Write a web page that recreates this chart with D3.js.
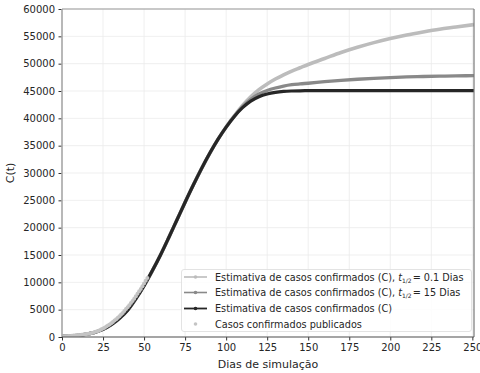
<!DOCTYPE html>
<html><head><meta charset="utf-8">
<script src="https://cdn.jsdelivr.net/npm/d3@7"></script>
<style>body{margin:0;background:#fff}svg{display:block;font-family:"DejaVu Sans",sans-serif}</style>
</head><body>
<svg id="chart" width="480" height="373"></svg>
<script>
// Days (x) for the model curves
const days = [0,5,10,15,20,25,30,35,40,45,50,55,60,65,70,75,80,85,90,95,100,105,110,115,120,125,130,135,140,145,150,160,170,180,190,200,210,220,230,240,251];
// Estimativa (C) - black
const estC = [100,180,320,520,850,1400,2250,3400,4900,7000,9400,12100,15000,18150,21400,24650,27800,30800,33600,36150,38400,40350,41950,43150,43950,44450,44750,44920,45000,45040,45060,45070,45080,45080,45080,45080,45080,45080,45080,45080,45080];
// Estimativa (C), t1/2 = 15 Dias - mid gray
const estC15 = [100,180,320,520,850,1400,2250,3400,4900,7000,9400,12100,15000,18150,21400,24650,27800,30800,33600,36150,38400,40400,42150,43500,44450,45100,45550,45900,46150,46300,46420,46700,46950,47150,47320,47460,47570,47650,47720,47770,47810];
// Estimativa (C), t1/2 = 0.1 Dias - light gray
const estC01 = [100,180,320,520,850,1400,2250,3400,4900,7000,9400,12100,15000,18150,21400,24650,27800,30800,33600,36150,38420,40450,42350,43950,45250,46300,47200,47950,48650,49250,49850,50950,52050,53000,53850,54600,55250,55800,56300,56700,57150];
// Casos confirmados publicados
const pubDays = d3.range(0,53);
const pubCases = [100,110,130,150,170,200,230,260,290,320,350,380,420,460,500,550,600,660,720,800,900,1000,1100,1250,1400,1550,1700,1900,2100,2300,2500,2750,3000,3250,3500,3800,4100,4400,4750,5100,5450,5800,6200,6600,7000,7450,7900,8350,8800,9300,9800,10300,10800];
const xTicks = [0,25,50,75,100,125,150,175,200,225,250];
const yTicks = [0,5000,10000,15000,20000,25000,30000,35000,40000,45000,50000,55000,60000];

const svg = d3.select("#chart");
const L=62, R=474, T=9, B=337;
const x = d3.scaleLinear().domain([0,251]).range([L,R]);
const y = d3.scaleLinear().domain([0,60000]).range([B,T]);

// grid
const g = svg.append("g");
g.selectAll(".gx").data(xTicks).join("line").attr("x1",d=>x(d)).attr("x2",d=>x(d)).attr("y1",T).attr("y2",B).attr("stroke","#ebebeb").attr("stroke-width",0.8);
g.selectAll(".gy").data(yTicks).join("line").attr("y1",d=>y(d)).attr("y2",d=>y(d)).attr("x1",L).attr("x2",R).attr("stroke","#ebebeb").attr("stroke-width",0.8);

const line = (arr)=>d3.line().x((d,i)=>x(days[i])).y(d=>y(d)).curve(d3.curveMonotoneX)(arr);
svg.append("clipPath").attr("id","c").append("rect").attr("x",L).attr("y",T).attr("width",R-L).attr("height",B-T);
const pg = svg.append("g").attr("clip-path","url(#c)");
pg.append("path").attr("d",line(estC01)).attr("fill","none").attr("stroke","#bcbcbc").attr("stroke-width",3.6);
pg.append("path").attr("d",line(estC15)).attr("fill","none").attr("stroke","#898989").attr("stroke-width",3.3);
pg.append("path").attr("d",line(estC)).attr("fill","none").attr("stroke","#262626").attr("stroke-width",3.2);
pg.selectAll(".pub").data(pubCases).join("circle").attr("cx",(d,i)=>x(pubDays[i])).attr("cy",d=>y(d)).attr("r",2).attr("fill","#c4c4c4");

// axes
const xa = svg.append("g").attr("transform",`translate(0,${B})`).call(d3.axisBottom(x).tickValues(xTicks).tickSize(3.5).tickPadding(3.5));
const ya = svg.append("g").attr("transform",`translate(${L},0)`).call(d3.axisLeft(y).tickValues(yTicks).tickSize(3.5).tickPadding(3.5).tickFormat(d3.format("d")));
[xa,ya].forEach(a=>{a.select(".domain").remove();a.selectAll("text").attr("font-size",10).attr("fill","#262626").attr("font-family","DejaVu Sans");a.selectAll("line").attr("stroke","#333");});

// spines
svg.append("line").attr("x1",L).attr("x2",L).attr("y1",T).attr("y2",B).attr("stroke","#a8a8a8").attr("stroke-width",1.6);
svg.append("line").attr("x1",L).attr("x2",R).attr("y1",T).attr("y2",T).attr("stroke","#999").attr("stroke-width",1.2);
svg.append("line").attr("x1",R).attr("x2",R).attr("y1",T).attr("y2",B).attr("stroke","#777").attr("stroke-width",1.2);
svg.append("line").attr("x1",L).attr("x2",R).attr("y1",B).attr("y2",B).attr("stroke","#555").attr("stroke-width",1.2);

svg.append("text").attr("x",(L+R)/2).attr("y",368).attr("text-anchor","middle").attr("font-size",11).attr("fill","#262626").text("Dias de simulação");
svg.append("text").attr("transform",`translate(14,${(T+B)/2}) rotate(-90)`).attr("text-anchor","middle").attr("font-size",11).attr("fill","#262626").text("C(t)");

// legend
const lg = svg.append("g");
lg.append("rect").attr("x",181.5).attr("y",269.5).attr("width",290).attr("height",62).attr("rx",2.5).attr("fill","rgba(255,255,255,0.85)").attr("stroke","#dcdcdc").attr("stroke-width",0.8);
const items = [
 {c:"#bcbcbc",w:1.6,t:"0.1"},
 {c:"#898989",w:1.6,t:"15"},
 {c:"#262626",w:1.8,t:null},
 {c:null}
];
const rowsY=[277,292.5,308.5,324];
items.forEach((it,i)=>{
  const yy=rowsY[i];
  if(it.c){
    lg.append("line").attr("x1",184).attr("x2",207).attr("y1",yy).attr("y2",yy).attr("stroke",it.c).attr("stroke-width",it.w);
    lg.append("circle").attr("cx",195.5).attr("cy",yy).attr("r",1.8).attr("fill",it.c);
  } else {
    lg.append("circle").attr("cx",195.5).attr("cy",yy).attr("r",1.8).attr("fill","#c4c4c4");
  }
  const tx = lg.append("text").attr("x",215).attr("y",yy+3.5).attr("font-size",9.7).attr("fill","#262626");
  if(i<2){
    tx.append("tspan").text("Estimativa de casos confirmados (C), ");
    tx.append("tspan").attr("font-style","italic").text("t");
    tx.append("tspan").attr("font-size",6).attr("dy",2).text("1/2");
    tx.append("tspan").attr("dy",-2).attr("dx",1).text("= "+it.t+" Dias");
  } else if(i===2){
    tx.text("Estimativa de casos confirmados (C)");
  } else {
    tx.text("Casos confirmados publicados");
  }
});
</script>
</body></html>
